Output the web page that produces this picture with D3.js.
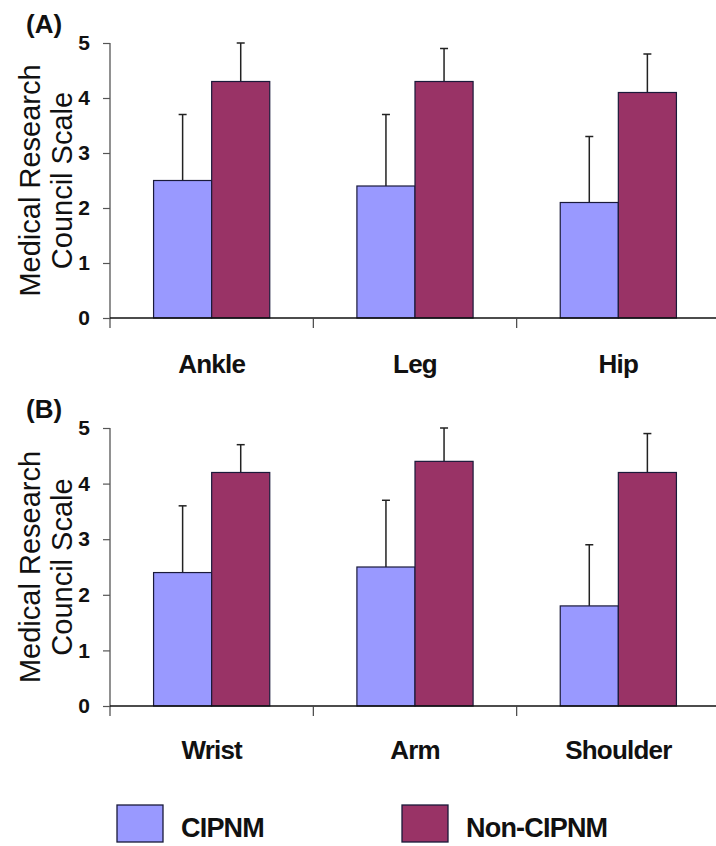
<!DOCTYPE html>
<html>
<head>
<meta charset="utf-8">
<script src="https://cdn.jsdelivr.net/npm/d3@7"></script>
<style>
body { margin: 0; background: #fff; }
svg { display: block; font-family: "Liberation Sans", Arial, sans-serif; }
</style>
</head>
<body>
<div id="chart"></div>
<script>
// data
var seriesNames = ["CIPNM", "Non-CIPNM"];
var seriesColors = ["#9999ff", "#993366"];
var yTicks = [0, 1, 2, 3, 4, 5];

var categoriesA = ["Ankle", "Leg", "Hip"];
var cipnmA = [2.5, 2.4, 2.1];
var cipnmErrA = [1.2, 1.3, 1.2];
var nonCipnmA = [4.3, 4.3, 4.1];
var nonCipnmErrA = [0.7, 0.6, 0.7];

var categoriesB = ["Wrist", "Arm", "Shoulder"];
var cipnmB = [2.4, 2.5, 1.8];
var cipnmErrB = [1.2, 1.2, 1.1];
var nonCipnmB = [4.2, 4.4, 4.2];
var nonCipnmErrB = [0.5, 0.6, 0.7];

var svg = d3.select("#chart").append("svg")
    .attr("width", 716)
    .attr("height", 846);

// one panel = one grouped bar chart with error bars
BarPanel = function(_svg, _label, _categories, _values, _errors, _config) {
    this.svg = _svg;
    this.label = _label;
    this.categories = _categories;
    this.values = _values;   // [cipnm, nonCipnm]
    this.errors = _errors;
    this.config = _config;
    this.initVis();
}

BarPanel.prototype.initVis = function() {
    var vis = this;
    var c = vis.config;

    vis.x = d3.scaleBand()
        .domain(vis.categories)
        .range([110, 720])
        .padding(0);

    vis.xSub = d3.scaleBand()
        .domain(seriesNames)
        .range([0, vis.x.bandwidth()])
        .paddingInner(0)
        .paddingOuter(0.75);

    vis.y = d3.scaleLinear()
        .domain([0, 5])
        .range([c.bottom, c.top]);

    var rows = [];
    vis.categories.forEach(function(cat, i) {
        seriesNames.forEach(function(s, j) {
            rows.push({cat: cat, series: s, value: vis.values[j][i], err: vis.errors[j][i], color: seriesColors[j]});
        });
    });

    // error bars (drawn first so bar outline sits over them)
    var eb = vis.svg.append("g").selectAll("g")
        .data(rows)
        .enter().append("g");

    eb.append("line")
        .attr("x1", function(d) { return vis.x(d.cat) + vis.xSub(d.series) + vis.xSub.bandwidth() / 2; })
        .attr("x2", function(d) { return vis.x(d.cat) + vis.xSub(d.series) + vis.xSub.bandwidth() / 2; })
        .attr("y1", function(d) { return vis.y(d.value); })
        .attr("y2", function(d) { return vis.y(d.value + d.err); })
        .attr("stroke", "#222")
        .attr("stroke-width", 1.5);

    eb.append("line")
        .attr("x1", function(d) { return vis.x(d.cat) + vis.xSub(d.series) + vis.xSub.bandwidth() / 2 - 4; })
        .attr("x2", function(d) { return vis.x(d.cat) + vis.xSub(d.series) + vis.xSub.bandwidth() / 2 + 4; })
        .attr("y1", function(d) { return vis.y(d.value + d.err); })
        .attr("y2", function(d) { return vis.y(d.value + d.err); })
        .attr("stroke", "#222")
        .attr("stroke-width", 1.5);

    vis.svg.append("g").selectAll("rect")
        .data(rows)
        .enter().append("rect")
        .attr("x", function(d) { return vis.x(d.cat) + vis.xSub(d.series); })
        .attr("y", function(d) { return vis.y(d.value); })
        .attr("width", vis.xSub.bandwidth())
        .attr("height", function(d) { return vis.y(0) - vis.y(d.value); })
        .attr("fill", function(d) { return d.color; })
        .attr("stroke", "#1a1a3a")
        .attr("stroke-width", 1.2);

    // y axis
    var yAxis = vis.svg.append("g")
        .attr("transform", "translate(110,0)")
        .call(d3.axisLeft(vis.y).tickValues(yTicks).tickSize(7).tickPadding(13).tickFormat(d3.format("d")));
    yAxis.select(".domain").attr("stroke", "#555").attr("stroke-width", 1.3)
        .attr("d", "M0," + vis.y(5) + "V" + (vis.y(0) + 10));
    yAxis.selectAll(".tick line").attr("stroke", "#555").attr("stroke-width", 1.2);
    yAxis.selectAll("text")
        .attr("font-size", 21)
        .attr("font-weight", "bold")
        .attr("fill", "#111")
        .attr("font-family", "Liberation Sans, Arial, sans-serif");

    // x axis with ticks between groups
    var xAxis = vis.svg.append("g")
        .attr("transform", "translate(0," + vis.y(0) + ")");
    xAxis.append("line")
        .attr("x1", 110).attr("x2", 716)
        .attr("stroke", "#111").attr("stroke-width", 1.3);
    xAxis.selectAll(".sep")
        .data(vis.categories.slice(1))
        .enter().append("line")
        .attr("class", "sep")
        .attr("x1", function(d) { return vis.x(d); })
        .attr("x2", function(d) { return vis.x(d); })
        .attr("y1", 0).attr("y2", 10)
        .attr("stroke", "#444").attr("stroke-width", 1.2);
    xAxis.selectAll(".cat")
        .data(vis.categories)
        .enter().append("text")
        .attr("class", "cat")
        .attr("x", function(d) { return vis.x(d) + vis.x.bandwidth() / 2; })
        .attr("y", c.labelOffset)
        .attr("text-anchor", "middle")
        .attr("font-size", 26)
        .attr("font-weight", "bold")
        .attr("letter-spacing", -0.8)
        .attr("fill", "#111")
        .text(function(d) { return d; });

    // axis title, two lines
    var midY = (vis.y(0) + vis.y(5)) / 2;
    vis.svg.append("text")
        .attr("transform", "translate(40," + midY + ") rotate(-90)")
        .attr("text-anchor", "middle")
        .attr("font-size", 29)
        .attr("fill", "#111")
        .text("Medical Research");
    vis.svg.append("text")
        .attr("transform", "translate(72," + midY + ") rotate(-90)")
        .attr("text-anchor", "middle")
        .attr("font-size", 29)
        .attr("fill", "#111")
        .text("Council Scale");

    // panel label
    vis.svg.append("text")
        .attr("x", 26)
        .attr("y", c.top - 10)
        .attr("font-size", 26)
        .attr("font-weight", "bold")
        .attr("fill", "#111")
        .text(vis.label);
}

new BarPanel(svg, "(A)", categoriesA, [cipnmA, nonCipnmA], [cipnmErrA, nonCipnmErrA],
    {top: 43, bottom: 318, labelOffset: 55});
new BarPanel(svg, "(B)", categoriesB, [cipnmB, nonCipnmB], [cipnmErrB, nonCipnmErrB],
    {top: 428, bottom: 706, labelOffset: 53});

// legend
var legendX = d3.scalePoint().domain(seriesNames).range([117, 402]);
var legend = svg.append("g").selectAll("g")
    .data(seriesNames)
    .enter().append("g")
    .attr("transform", function(d) { return "translate(" + legendX(d) + ",805)"; });

legend.append("rect")
    .attr("width", 46)
    .attr("height", 37)
    .attr("fill", function(d, i) { return seriesColors[i]; })
    .attr("stroke", "#1a1a3a")
    .attr("stroke-width", 1.3);

legend.append("text")
    .attr("x", 64)
    .attr("y", 32)
    .attr("font-size", 27)
    .attr("font-weight", "bold")
    .attr("letter-spacing", -0.8)
    .attr("fill", "#111")
    .text(function(d) { return d; });
</script>
</body>
</html>
